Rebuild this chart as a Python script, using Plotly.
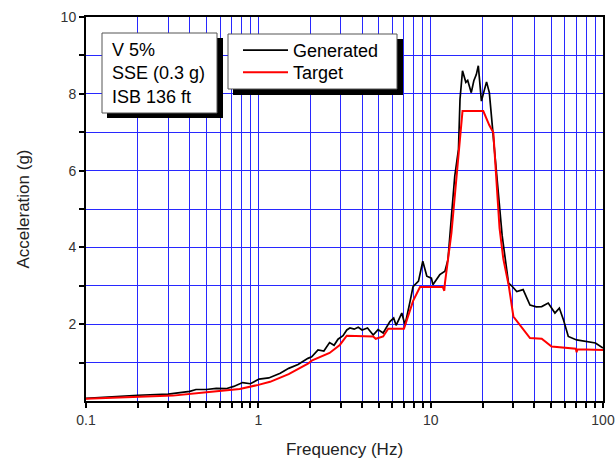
import plotly.graph_objects as go

# Response spectrum data (frequency in Hz, spectral acceleration in g)
gen_f = [0.1, 0.15, 0.2, 0.3, 0.4, 0.435, 0.5, 0.57, 0.65, 0.72, 0.81, 0.9, 1.01, 1.15,
         1.34, 1.5, 1.7, 1.94, 2.04, 2.22, 2.4, 2.59, 2.75, 2.9, 3.1, 3.26, 3.4, 3.6, 3.8,
         4.0, 4.3, 4.64, 4.95, 5.3, 5.8, 6.1, 6.3, 6.8, 7.1, 7.6, 7.9, 8.5, 9.0, 9.5, 10.1,
         10.3, 11.3, 12.1, 12.6, 13.2, 13.8, 14.5, 14.8, 15.3, 16.0, 16.4, 17.2, 17.8, 18.4,
         18.9, 19.7, 20.3, 21.1, 21.9, 22.6, 23.5, 24.5, 26.0, 28.3, 29.5, 31.6, 34.4, 37.7,
         41.0, 44.1, 48.1, 52.6, 55.8, 59.0, 62.9, 70.3, 80.3, 90.4, 100.0]
gen_v = [0.07, 0.12, 0.15, 0.18, 0.25, 0.3, 0.3, 0.33, 0.32, 0.38, 0.48, 0.45, 0.57, 0.6,
         0.72, 0.85, 0.95, 1.11, 1.15, 1.33, 1.3, 1.52, 1.45, 1.61, 1.7, 1.85, 1.9, 1.87, 1.92,
         1.85, 1.9, 1.72, 1.86, 1.77, 2.07, 2.16, 1.97, 2.29, 1.98, 2.6, 2.98, 3.12, 3.64, 3.25,
         3.2, 3.03, 3.29, 3.38, 3.68, 4.81, 5.86, 6.55, 7.86, 8.6, 8.3, 8.35, 8.03, 8.34, 8.5,
         8.73, 7.81, 8.03, 8.31, 8.03, 7.34, 6.55, 5.5, 4.3, 3.07, 3.0, 2.85, 2.9, 2.5,
         2.45, 2.46, 2.55, 2.29, 2.42, 2.11, 1.68, 1.59, 1.55, 1.51, 1.38]

tgt_f = [0.1, 0.19, 0.32, 0.5, 0.78, 1.0, 1.17, 1.5, 1.94, 2.04, 2.59, 2.97, 3.26, 4.64,
         4.8, 5.3, 5.67, 7.0, 7.9, 8.67, 11.75, 12.0, 12.1, 13.2, 14.2, 15.3, 20.2, 21.9,
         23.1, 24.1, 25.1, 26.4, 28.4, 30.2, 33.0, 37.7, 44.1, 50.3, 69.5, 70.3, 71.0, 100.0]
tgt_v = [0.06, 0.1, 0.14, 0.23, 0.31, 0.42, 0.5, 0.7, 0.97, 1.05, 1.25, 1.46, 1.7, 1.68,
         1.62, 1.68, 1.88, 1.88, 2.6, 2.97, 2.97, 2.87, 3.07, 4.38, 5.95, 7.55, 7.55, 7.18,
         6.99, 5.7, 4.5, 3.7, 3.0, 2.2, 1.98, 1.64, 1.62, 1.42, 1.36, 1.27, 1.35, 1.33]

# Tick positions and labels
x_tickvals = [m * 10 ** e for e in (-1, 0, 1) for m in range(1, 10)] + [100]
x_ticktext = [("0.1" if v == 0.1 else "1" if v == 1 else "10" if v == 10 else "100" if v == 100 else "")
              for v in x_tickvals]
y_tickvals = list(range(1, 11))
y_ticktext = [str(v) if v % 2 == 0 else "" for v in y_tickvals]

W, H = 615, 461
ML, MR, MT, MB = 86, 12, 17, 60
PW, PH = W - ML - MR, H - MT - MB


def px(x):
    return (x - ML) / PW


def py(y):
    return (H - MB - y) / PH


FONT = "Liberation Sans, Arial, sans-serif"
GRID = "rgb(40,40,255)"

fig = go.Figure()
fig.add_trace(go.Scatter(x=gen_f, y=gen_v, mode="lines", name="Generated", legend="legend",
                         line=dict(color="black", width=1.7)))
fig.add_trace(go.Scatter(x=tgt_f, y=tgt_v, mode="lines", name="Target", legend="legend2",
                         line=dict(color="red", width=2)))

shapes = []
# info box with drop shadow
shapes.append(dict(type="rect", xref="paper", yref="paper", x0=px(107), x1=px(223),
                   y0=py(118), y1=py(38), fillcolor="black", line=dict(width=0), layer="above"))
shapes.append(dict(type="rect", xref="paper", yref="paper", x0=px(102), x1=px(217),
                   y0=py(113), y1=py(33), fillcolor="white",
                   line=dict(color="#555", width=1), layer="above"))
# legend frame with drop shadow
shapes.append(dict(type="rect", xref="paper", yref="paper", x0=px(233), x1=px(403),
                   y0=py(95), y1=py(39), fillcolor="black", line=dict(width=0), layer="above"))
shapes.append(dict(type="rect", xref="paper", yref="paper", x0=px(228), x1=px(397),
                   y0=py(89), y1=py(34), fillcolor="white",
                   line=dict(color="#555", width=1), layer="above"))

legend_style = dict(xanchor="left", yanchor="middle", bgcolor="rgba(0,0,0,0)", borderwidth=0,
                    font=dict(family=FONT, size=18, color="black"), itemwidth=45)

fig.update_layout(
    width=W, height=H,
    margin=dict(l=ML, r=MR, t=MT, b=MB, autoexpand=False),
    paper_bgcolor="white", plot_bgcolor="white",
    font=dict(family=FONT, color="#222"),
    shapes=shapes,
    showlegend=True,
    legend=dict(x=px(238), y=py(50.5), **legend_style),
    legend2=dict(x=px(238), y=py(72.5), **legend_style),
    annotations=[dict(text="V 5%<br>SSE (0.3 g)<br>ISB 136 ft", xref="paper", yref="paper",
                      x=px(110), y=py(38), xanchor="left", yanchor="top", align="left",
                      showarrow=False, font=dict(family=FONT, size=18, color="black"))],
)

fig.update_xaxes(
    type="log", range=[-1, 2], automargin=False,
    tickmode="array", tickvals=x_tickvals, ticktext=x_ticktext,
    ticks="outside", ticklen=5, tickwidth=1.5, tickcolor="black",
    tickfont=dict(size=14, color="#333"),
    showgrid=True, gridcolor=GRID, gridwidth=1,
    showline=True, linecolor="black", linewidth=2, mirror=True,
    zeroline=False,
    title=dict(text="Frequency (Hz)", font=dict(size=17, color="#222"), standoff=16),
)
fig.update_yaxes(
    range=[0, 10], automargin=False,
    tickmode="array", tickvals=y_tickvals, ticktext=y_ticktext,
    ticks="outside", ticklen=5, tickwidth=1.5, tickcolor="black",
    tickfont=dict(size=14, color="#333"),
    showgrid=True, gridcolor=GRID, gridwidth=1,
    showline=True, linecolor="black", linewidth=2, mirror=True,
    zeroline=False,
    title=dict(text="Acceleration (g)", font=dict(size=17, color="#222"), standoff=27),
)

fig.write_html("out.html")
